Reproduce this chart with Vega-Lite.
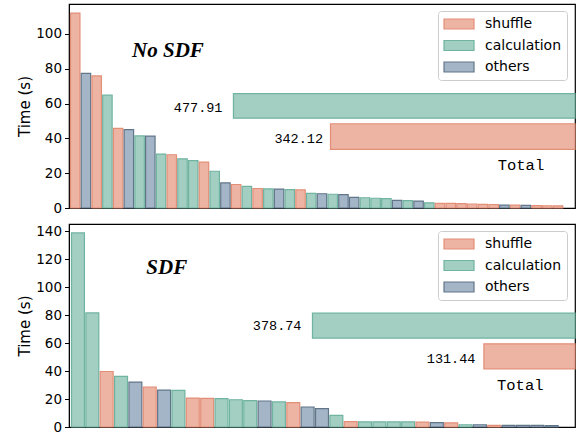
{
  "$schema": "https://vega.github.io/schema/vega-lite/v6.json",
  "padding": {"left": 17, "top": 3, "right": 0, "bottom": 0},
  "background": "white",
  "config": {
    "view": {"stroke": "black", "strokeWidth": 1.2},
    "axis": {"labelFont": "DejaVu Sans", "titleFont": "DejaVu Sans"},
    "legend": {"title": null, "orient": "none", "legendX": 369, "legendY": 7, "symbolType": "M-1,-0.714L3.286,-0.714L3.286,0.714L-1,0.714Z", "symbolSize": 196, "symbolStrokeWidth": 1.2, "symbolOpacity": 1, "labelFontSize": 14, "labelFont": "DejaVu Sans", "labelColor": "black", "fillColor": "white", "strokeColor": "#cccccc", "cornerRadius": 3, "padding": 5, "rowPadding": 5.5, "labelOffset": 26}
  },
  "datasets": {
    "nosdf": [
      {"idx": 1, "category": "shuffle", "time": 112},
      {"idx": 2, "category": "others", "time": 77.4},
      {"idx": 3, "category": "shuffle", "time": 75.9},
      {"idx": 4, "category": "calculation", "time": 64.8},
      {"idx": 5, "category": "shuffle", "time": 45.8},
      {"idx": 6, "category": "others", "time": 45},
      {"idx": 7, "category": "calculation", "time": 41.4},
      {"idx": 8, "category": "others", "time": 41.3},
      {"idx": 9, "category": "calculation", "time": 31},
      {"idx": 10, "category": "shuffle", "time": 30.6},
      {"idx": 11, "category": "calculation", "time": 28.2},
      {"idx": 12, "category": "calculation", "time": 27.2},
      {"idx": 13, "category": "shuffle", "time": 26.4},
      {"idx": 14, "category": "calculation", "time": 21.1},
      {"idx": 15, "category": "others", "time": 14.4},
      {"idx": 16, "category": "shuffle", "time": 13.5},
      {"idx": 17, "category": "calculation", "time": 12.4},
      {"idx": 18, "category": "shuffle", "time": 11.2},
      {"idx": 19, "category": "calculation", "time": 11},
      {"idx": 20, "category": "others", "time": 10.9},
      {"idx": 21, "category": "calculation", "time": 10.5},
      {"idx": 22, "category": "shuffle", "time": 10.4},
      {"idx": 23, "category": "calculation", "time": 8.4},
      {"idx": 24, "category": "others", "time": 8.2},
      {"idx": 25, "category": "calculation", "time": 7.9},
      {"idx": 26, "category": "others", "time": 7.7},
      {"idx": 27, "category": "others", "time": 6.1},
      {"idx": 28, "category": "calculation", "time": 5.9},
      {"idx": 29, "category": "calculation", "time": 5.6},
      {"idx": 30, "category": "calculation", "time": 5.4},
      {"idx": 31, "category": "others", "time": 4.4},
      {"idx": 32, "category": "calculation", "time": 4.2},
      {"idx": 33, "category": "others", "time": 4.0},
      {"idx": 34, "category": "calculation", "time": 3.0},
      {"idx": 35, "category": "shuffle", "time": 2.7},
      {"idx": 36, "category": "shuffle", "time": 2.6},
      {"idx": 37, "category": "shuffle", "time": 2.5},
      {"idx": 38, "category": "shuffle", "time": 2.3},
      {"idx": 39, "category": "shuffle", "time": 2.1},
      {"idx": 40, "category": "shuffle", "time": 2.0},
      {"idx": 41, "category": "others", "time": 1.7},
      {"idx": 42, "category": "shuffle", "time": 1.6},
      {"idx": 43, "category": "others", "time": 1.5},
      {"idx": 44, "category": "shuffle", "time": 1.4},
      {"idx": 45, "category": "shuffle", "time": 1.3},
      {"idx": 46, "category": "shuffle", "time": 1.2}
    ],
    "sdf": [
      {"idx": 1, "category": "calculation", "time": 138.8},
      {"idx": 2, "category": "calculation", "time": 81.6},
      {"idx": 3, "category": "shuffle", "time": 39.7},
      {"idx": 4, "category": "calculation", "time": 36.2},
      {"idx": 5, "category": "others", "time": 32.1},
      {"idx": 6, "category": "shuffle", "time": 28.6},
      {"idx": 7, "category": "others", "time": 26.4},
      {"idx": 8, "category": "calculation", "time": 26.2},
      {"idx": 9, "category": "shuffle", "time": 20.7},
      {"idx": 10, "category": "shuffle", "time": 20.5},
      {"idx": 11, "category": "calculation", "time": 20.3},
      {"idx": 12, "category": "calculation", "time": 19.5},
      {"idx": 13, "category": "calculation", "time": 18.8},
      {"idx": 14, "category": "others", "time": 18.6},
      {"idx": 15, "category": "calculation", "time": 17.9},
      {"idx": 16, "category": "shuffle", "time": 17.5},
      {"idx": 17, "category": "others", "time": 14.3},
      {"idx": 18, "category": "others", "time": 13.1},
      {"idx": 19, "category": "calculation", "time": 8.3},
      {"idx": 20, "category": "shuffle", "time": 3.8},
      {"idx": 21, "category": "calculation", "time": 3.7},
      {"idx": 22, "category": "calculation", "time": 3.7},
      {"idx": 23, "category": "calculation", "time": 3.6},
      {"idx": 24, "category": "calculation", "time": 3.6},
      {"idx": 25, "category": "shuffle", "time": 3.5},
      {"idx": 26, "category": "others", "time": 3.1},
      {"idx": 27, "category": "shuffle", "time": 2.9},
      {"idx": 28, "category": "calculation", "time": 1.6},
      {"idx": 29, "category": "others", "time": 1.6},
      {"idx": 30, "category": "shuffle", "time": 1.2},
      {"idx": 31, "category": "others", "time": 1.2},
      {"idx": 32, "category": "others", "time": 1.2},
      {"idx": 33, "category": "others", "time": 1.1},
      {"idx": 34, "category": "others", "time": 1.0}
    ],
    "totals": [
      {"panel": "No SDF", "category": "calculation", "total": 477.91},
      {"panel": "No SDF", "category": "shuffle", "total": 342.12},
      {"panel": "SDF", "category": "calculation", "total": 378.74},
      {"panel": "SDF", "category": "shuffle", "total": 131.44}
    ],
    "anno": [{}]
  },
  "vconcat": [
    {
      "width": 506,
      "height": 204,
      "layer": [
        {
          "data": {"name": "nosdf"},
          "mark": {"type": "bar", "strokeWidth": 1.2},
          "encoding": {
            "x": {"field": "idx", "type": "ordinal", "scale": {"domain": [1,2,3,4,5,6,7,8,9,10,11,12,13,14,15,16,17,18,19,20,21,22,23,24,25,26,27,28,29,30,31,32,33,34,35,36,37,38,39,40,41,42,43,44,45,46,47], "paddingInner": 0.12, "paddingOuter": 0.14}, "axis": null},
            "y": {"field": "time", "type": "quantitative", "scale": {"domain": [0, 117.2], "nice": false},
              "axis": {"title": "Time (s)", "values": [0,20,40,60,80,100], "tickCount": 10, "labelOverlap": false, "grid": false, "titleFontSize": 15, "titleFontWeight": "normal", "titleColor": "black", "labelFontSize": 13.5, "labelColor": "black", "tickColor": "black", "domainColor": "black", "tickSize": 4.5, "labelPadding": 3, "titlePadding": 3}},
            "fill": {"field": "category", "type": "nominal", "scale": {"domain": ["shuffle", "calculation", "others"], "range": ["#EDB3A3", "#A3CEC2", "#A3B5C7"]}},
            "stroke": {"field": "category", "type": "nominal", "scale": {"domain": ["shuffle", "calculation", "others"], "range": ["#E38F78", "#6FB3A1", "#627689"]}}
          }
        },
        {
          "data": {"name": "totals"},
          "transform": [{"filter": "datum.panel === 'No SDF' && datum.category === 'calculation'"}],
          "mark": {"type": "bar", "fill": "#A3CEC2", "stroke": "#6FB3A1", "strokeWidth": 1.2},
          "encoding": {
            "x": {"field": "total", "type": "quantitative", "scale": {"domain": [0, 708], "reverse": true, "nice": false, "zero": true}, "axis": null},
            "x2": {"datum": 0},
            "y": {"datum": 51.6},
            "y2": {"datum": 65.7}
          }
        },
        {
          "data": {"name": "totals"},
          "transform": [{"filter": "datum.panel === 'No SDF' && datum.category === 'shuffle'"}],
          "mark": {"type": "bar", "fill": "#EDB3A3", "stroke": "#E38F78", "strokeWidth": 1.2},
          "encoding": {
            "x": {"field": "total", "type": "quantitative", "scale": {"domain": [0, 708], "reverse": true, "nice": false, "zero": true}, "axis": null},
            "x2": {"datum": 0},
            "y": {"datum": 33.7},
            "y2": {"datum": 48.4}
          }
        },
        {
          "data": {"name": "totals"},
          "transform": [{"filter": "datum.panel === 'No SDF' && datum.category === 'calculation'"}],
          "mark": {"type": "text", "align": "right", "baseline": "middle", "dx": -11, "dy": 2, "font": "Liberation Mono", "fontSize": 13.5, "color": "black"},
          "encoding": {
            "x": {"field": "total", "type": "quantitative", "scale": {"domain": [0, 708], "reverse": true, "nice": false, "zero": true}, "axis": null},
            "y": {"datum": 58.6},
            "text": {"field": "total", "type": "quantitative", "format": ".2f"}
          }
        },
        {
          "data": {"name": "totals"},
          "transform": [{"filter": "datum.panel === 'No SDF' && datum.category === 'shuffle'"}],
          "mark": {"type": "text", "align": "right", "baseline": "middle", "dx": -7.5, "dy": 2, "font": "Liberation Mono", "fontSize": 13.5, "color": "black"},
          "encoding": {
            "x": {"field": "total", "type": "quantitative", "scale": {"domain": [0, 708], "reverse": true, "nice": false, "zero": true}, "axis": null},
            "y": {"datum": 41},
            "text": {"field": "total", "type": "quantitative", "format": ".2f"}
          }
        },
        {
          "data": {"name": "anno"},
          "mark": {"type": "text", "text": "Total", "align": "center", "baseline": "middle", "font": "Liberation Mono", "fontSize": 15.5, "color": "black"},
          "encoding": {
            "x": {"datum": 75.6, "type": "quantitative", "scale": {"domain": [0, 708], "reverse": true, "nice": false, "zero": true}, "axis": null},
            "y": {"datum": 24.7}
          }
        },
        {
          "data": {"name": "anno"},
          "mark": {"type": "text", "text": "No SDF", "align": "center", "baseline": "alphabetic", "font": "Liberation Serif", "fontStyle": "italic", "fontWeight": "bold", "fontSize": 21, "color": "black"},
          "encoding": {
            "x": {"datum": 569.5, "type": "quantitative", "scale": {"domain": [0, 708], "reverse": true, "nice": false, "zero": true}, "axis": null},
            "y": {"datum": 87}
          }
        }
      ],
      "resolve": {"scale": {"x": "independent"}}
    },
    {
      "width": 506,
      "height": 203,
      "layer": [
        {
          "data": {"name": "sdf"},
          "mark": {"type": "bar", "strokeWidth": 1.2},
          "encoding": {
            "x": {"field": "idx", "type": "ordinal", "scale": {"domain": [1,2,3,4,5,6,7,8,9,10,11,12,13,14,15,16,17,18,19,20,21,22,23,24,25,26,27,28,29,30,31,32,33,34,35], "paddingInner": 0.1, "paddingOuter": 0.175}, "axis": null},
            "y": {"field": "time", "type": "quantitative", "scale": {"domain": [0, 145.2], "nice": false},
              "axis": {"title": "Time (s)", "values": [0,20,40,60,80,100,120,140], "tickCount": 10, "labelOverlap": false, "grid": false, "titleFontSize": 15, "titleFontWeight": "normal", "titleColor": "black", "labelFontSize": 13.5, "labelColor": "black", "tickColor": "black", "domainColor": "black", "tickSize": 4.5, "labelPadding": 3, "titlePadding": 3}},
            "fill": {"field": "category", "type": "nominal", "scale": {"domain": ["shuffle", "calculation", "others"], "range": ["#EDB3A3", "#A3CEC2", "#A3B5C7"]}},
            "stroke": {"field": "category", "type": "nominal", "scale": {"domain": ["shuffle", "calculation", "others"], "range": ["#E38F78", "#6FB3A1", "#627689"]}}
          }
        },
        {
          "data": {"name": "totals"},
          "transform": [{"filter": "datum.panel === 'SDF' && datum.category === 'calculation'"}],
          "mark": {"type": "bar", "fill": "#A3CEC2", "stroke": "#6FB3A1", "strokeWidth": 1.2},
          "encoding": {
            "x": {"field": "total", "type": "quantitative", "scale": {"domain": [0, 730], "reverse": true, "nice": false, "zero": true}, "axis": null},
            "x2": {"datum": 0},
            "y": {"datum": 63.6},
            "y2": {"datum": 81.4}
          }
        },
        {
          "data": {"name": "totals"},
          "transform": [{"filter": "datum.panel === 'SDF' && datum.category === 'shuffle'"}],
          "mark": {"type": "bar", "fill": "#EDB3A3", "stroke": "#E38F78", "strokeWidth": 1.2},
          "encoding": {
            "x": {"field": "total", "type": "quantitative", "scale": {"domain": [0, 730], "reverse": true, "nice": false, "zero": true}, "axis": null},
            "x2": {"datum": 0},
            "y": {"datum": 41.6},
            "y2": {"datum": 59.5}
          }
        },
        {
          "data": {"name": "totals"},
          "transform": [{"filter": "datum.panel === 'SDF' && datum.category === 'calculation'"}],
          "mark": {"type": "text", "align": "right", "baseline": "middle", "dx": -11, "dy": 0, "font": "Liberation Mono", "fontSize": 13.5, "color": "black"},
          "encoding": {
            "x": {"field": "total", "type": "quantitative", "scale": {"domain": [0, 730], "reverse": true, "nice": false, "zero": true}, "axis": null},
            "y": {"datum": 72.5},
            "text": {"field": "total", "type": "quantitative", "format": ".2f"}
          }
        },
        {
          "data": {"name": "totals"},
          "transform": [{"filter": "datum.panel === 'SDF' && datum.category === 'shuffle'"}],
          "mark": {"type": "text", "align": "right", "baseline": "middle", "dx": -8.5, "dy": 3, "font": "Liberation Mono", "fontSize": 13.5, "color": "black"},
          "encoding": {
            "x": {"field": "total", "type": "quantitative", "scale": {"domain": [0, 730], "reverse": true, "nice": false, "zero": true}, "axis": null},
            "y": {"datum": 50.5},
            "text": {"field": "total", "type": "quantitative", "format": ".2f"}
          }
        },
        {
          "data": {"name": "anno"},
          "mark": {"type": "text", "text": "Total", "align": "center", "baseline": "middle", "font": "Liberation Mono", "fontSize": 15.5, "color": "black"},
          "encoding": {
            "x": {"datum": 79, "type": "quantitative", "scale": {"domain": [0, 730], "reverse": true, "nice": false, "zero": true}, "axis": null},
            "y": {"datum": 29.7}
          }
        },
        {
          "data": {"name": "anno"},
          "mark": {"type": "text", "text": "SDF", "align": "center", "baseline": "alphabetic", "font": "Liberation Serif", "fontStyle": "italic", "fontWeight": "bold", "fontSize": 21, "color": "black"},
          "encoding": {
            "x": {"datum": 589, "type": "quantitative", "scale": {"domain": [0, 730], "reverse": true, "nice": false, "zero": true}, "axis": null},
            "y": {"datum": 109.5}
          }
        }
      ],
      "resolve": {"scale": {"x": "independent"}}
    }
  ],
  "spacing": 7,
  "resolve": {
    "scale": {"fill": "independent", "stroke": "independent"},
    "legend": {"fill": "independent", "stroke": "independent"}
  }
}
